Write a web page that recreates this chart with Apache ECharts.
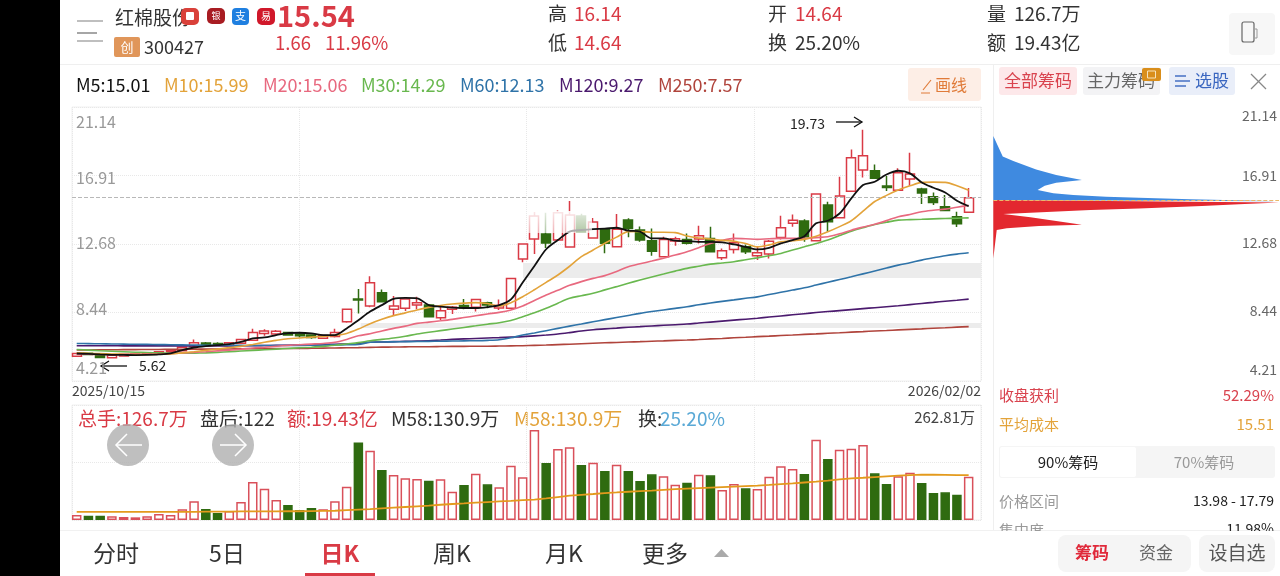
<!DOCTYPE html>
<html>
<head>
<meta charset="utf-8">
<style>
html,body{margin:0;padding:0;background:#fff}
#chart{width:1280px;height:576px}
</style>
<script src="https://cdn.jsdelivr.net/npm/echarts@6/dist/echarts.min.js"></script>
</head>
<body>
<div id="chart"></div>
<script>
// K 线数据，从截图上读出来的估计值
const opens = [5.74,5.92,5.80,5.64,5.76,5.83,5.86,5.92,6.00,6.08,6.36,6.56,6.52,6.40,6.55,6.73,7.15,7.12,7.20,7.12,7.05,6.85,6.96,7.87,9.27,8.84,9.67,8.64,8.70,8.90,8.90,8.12,8.64,8.87,8.76,9.05,8.72,8.70,11.75,12.98,13.29,12.92,12.49,14.40,13.04,13.58,12.51,14.16,13.54,12.88,11.89,12.86,12.95,12.98,13.02,11.82,12.34,12.50,11.95,12.05,13.08,13.95,14.09,12.87,15.08,14.30,15.94,17.24,17.20,16.26,16.00,16.69,16.07,15.59,14.98,14.36,14.64];
const closes = [5.91,5.84,5.66,5.80,5.87,5.88,5.93,6.02,6.10,6.30,6.57,6.44,6.42,6.58,6.78,7.21,7.30,7.28,7.05,7.00,6.90,7.02,7.20,8.65,9.21,10.28,9.11,8.84,9.28,9.05,8.18,8.55,8.76,8.74,9.25,8.90,8.88,10.55,12.67,14.40,12.73,14.60,14.46,13.41,14.03,12.72,13.58,13.64,12.92,12.22,12.96,13.00,12.72,13.18,12.20,12.26,12.75,12.20,12.13,12.85,13.68,14.15,13.12,15.76,14.05,15.64,18.00,18.13,16.73,16.17,17.08,17.00,15.82,15.24,14.75,13.93,15.54];
const lows = [5.72,5.80,5.62,5.62,5.74,5.80,5.84,5.90,5.98,6.05,6.33,6.40,6.38,6.38,6.52,6.68,7.00,7.02,7.00,6.90,6.82,6.80,6.90,7.81,8.38,8.76,9.11,8.22,8.53,8.64,8.18,7.98,8.35,8.64,8.50,8.70,8.60,8.68,11.54,12.06,12.43,12.90,12.49,13.40,13.00,12.10,12.50,13.09,12.82,11.95,11.85,12.57,12.65,12.70,12.15,11.68,12.09,12.05,11.68,11.78,12.96,13.74,12.81,12.85,13.43,14.30,15.90,16.79,16.69,15.95,15.95,16.27,15.14,15.08,14.75,13.72,14.64];
const highs = [5.93,5.94,5.82,5.82,5.90,5.90,5.95,6.04,6.12,6.33,6.78,6.62,6.60,6.60,6.82,7.44,7.40,7.36,7.25,7.18,7.10,7.06,7.44,8.68,9.89,10.69,9.87,9.46,9.30,9.42,8.95,8.90,8.84,9.28,9.27,9.11,9.25,10.55,12.70,14.65,14.60,14.75,15.33,14.55,14.28,13.62,14.53,14.26,13.75,13.64,13.13,13.13,13.33,13.80,13.74,12.40,13.33,12.65,12.50,12.92,14.42,14.50,14.21,15.76,15.28,16.83,18.52,19.73,17.59,16.87,17.35,18.31,16.15,15.86,15.70,14.67,16.14];

// 均线
const m5 = [5.91,5.88,5.85,5.83,5.82,5.81,5.82,5.85,5.92,6.12,6.28,6.37,6.43,6.49,6.63,6.84,6.90,7.05,7.17,7.19,7.15,7.05,7.05,7.46,7.97,8.50,8.90,9.28,9.34,9.32,8.90,8.80,8.74,8.72,8.72,8.78,8.90,9.25,10.30,11.32,12.35,12.92,13.44,13.54,13.60,13.62,13.68,13.50,13.44,13.02,13.02,12.88,12.85,12.81,12.81,12.77,12.65,12.50,12.34,12.44,12.71,12.92,13.16,13.95,14.11,14.56,15.49,16.32,16.52,16.97,17.20,17.04,16.48,16.15,15.86,15.35,15.01];
const m10 = [5.95,5.92,5.90,5.88,5.86,5.85,5.85,5.86,5.88,5.95,6.02,6.10,6.18,6.27,6.35,6.47,6.60,6.72,6.82,6.87,6.92,6.97,7.03,7.15,7.42,7.75,8.02,8.25,8.42,8.60,8.76,8.88,8.97,9.02,9.05,9.00,8.84,9.05,9.42,9.85,10.30,10.76,11.30,11.89,12.30,12.72,13.10,13.44,13.45,13.40,13.40,13.38,13.17,13.05,12.98,12.90,12.85,12.70,12.50,12.62,12.81,12.88,12.96,13.15,13.43,13.75,14.11,14.70,15.30,15.68,16.01,16.27,16.48,16.50,16.48,16.28,15.99];
const m20 = [5.87,5.86,5.85,5.85,5.85,5.86,5.87,5.88,5.90,5.94,5.98,6.02,6.07,6.12,6.18,6.25,6.30,6.36,6.41,6.45,6.49,6.53,6.60,6.78,7.00,7.13,7.30,7.46,7.60,7.77,7.85,7.93,8.02,8.13,8.24,8.35,8.45,8.60,8.84,9.18,9.52,9.82,10.12,10.35,10.55,10.72,10.98,11.27,11.45,11.62,11.80,11.99,12.20,12.45,12.70,12.90,13.02,13.00,12.96,13.00,13.02,13.02,13.02,13.07,13.12,13.30,13.53,13.72,13.90,14.12,14.36,14.50,14.67,14.76,14.83,14.95,15.06];
const m30 = [6.16,6.12,6.08,6.05,6.02,5.99,5.97,5.95,5.93,5.92,5.93,5.95,5.98,6.02,6.06,6.10,6.14,6.18,6.22,6.26,6.30,6.35,6.42,6.50,6.58,6.70,6.78,6.87,6.98,7.11,7.22,7.32,7.42,7.52,7.62,7.72,7.81,7.95,8.18,8.42,8.70,9.02,9.32,9.48,9.63,9.84,10.04,10.25,10.45,10.64,10.82,11.00,11.17,11.30,11.43,11.50,11.58,11.70,11.82,11.95,12.09,12.30,12.50,12.70,12.92,13.20,13.47,13.68,13.88,14.02,14.15,14.18,14.20,14.23,14.25,14.27,14.29];
const m60 = [6.53,6.52,6.51,6.50,6.49,6.48,6.47,6.46,6.45,6.44,6.43,6.42,6.42,6.41,6.41,6.40,6.40,6.40,6.41,6.41,6.42,6.43,6.44,6.45,6.47,6.60,6.62,6.63,6.64,6.65,6.66,6.67,6.68,6.69,6.70,6.72,6.76,6.88,7.05,7.18,7.32,7.46,7.60,7.73,7.87,8.00,8.13,8.26,8.39,8.50,8.60,8.70,8.80,8.92,9.03,9.13,9.22,9.32,9.41,9.55,9.69,9.83,9.97,10.14,10.31,10.48,10.65,10.83,11.01,11.19,11.37,11.52,11.68,11.82,11.95,12.05,12.13];
const m120 = [6.39,6.39,6.39,6.39,6.38,6.38,6.38,6.38,6.38,6.38,6.38,6.38,6.38,6.38,6.39,6.39,6.40,6.41,6.42,6.43,6.44,6.46,6.48,6.50,6.53,6.60,6.62,6.64,6.66,6.68,6.70,6.74,6.78,6.81,6.84,6.87,6.89,6.92,6.95,7.00,7.05,7.11,7.20,7.30,7.38,7.43,7.48,7.53,7.57,7.61,7.65,7.69,7.73,7.79,7.85,7.91,7.97,8.03,8.09,8.16,8.23,8.30,8.37,8.44,8.50,8.56,8.62,8.68,8.74,8.80,8.86,8.93,9.00,9.07,9.14,9.20,9.27];
const m250 = [6.13,6.13,6.14,6.14,6.15,6.15,6.16,6.16,6.17,6.17,6.18,6.18,6.19,6.19,6.20,6.20,6.21,6.21,6.22,6.22,6.23,6.24,6.25,6.26,6.27,6.29,6.30,6.31,6.32,6.33,6.33,6.34,6.35,6.35,6.36,6.36,6.37,6.38,6.39,6.41,6.43,6.46,6.48,6.51,6.54,6.57,6.59,6.62,6.64,6.67,6.69,6.72,6.74,6.77,6.81,6.84,6.88,6.91,6.95,6.98,7.02,7.05,7.09,7.12,7.16,7.19,7.23,7.26,7.30,7.33,7.37,7.40,7.43,7.47,7.50,7.54,7.57];

// 成交量（万手）
const volumes = [14.6,12.7,12.7,10.7,8.8,7.8,10.7,17.5,14.6,31.1,54.5,32.1,20.4,26.3,52.6,111,91.5,58.4,43.8,29.2,35,31.1,54.5,97.3,226.8,202.5,146,131.4,121.7,119.7,114.9,118.8,82.7,102.2,135.3,104.2,95.4,158.7,124.6,262.81,166.5,207.3,212.2,160.6,167.4,143.1,161.6,143.1,113.9,133.4,127.5,103.2,109,132.4,130.4,87.6,105.1,92.5,90.5,126.5,156.7,148.9,134.3,234.6,178.1,205.4,208.3,219,136.3,105.1,127.5,138.2,108,78.8,80.8,74,126.7];
const volumeMa = [24,24,24,24,24,24,24,24,24,24,24,24.5,24.5,24.5,25,25,25,25,25.5,25.5,26,26.5,27,29,30.5,32,34,36,38,40,42,44.5,46.7,48.5,50.5,52.5,54.5,56,58,59.4,63,67,71,73.5,76,78.8,80.5,82.5,84.5,86,88,90,91.5,93,94.5,96,97.5,99,100.2,102.5,105,107,109.5,112,115,118.5,121.7,123.5,125.5,127.5,129.5,131,132.4,132.2,131.9,131.4,130.9];

// 筹码分布 [密度, 价格]
const chipBlue = [[0,19.5],[3.3,18.23],[7,17.96],[15,17.44],[22,17.09],[31,16.78],[22,16.62],[18,16.43],[15.5,16.17],[21,15.96],[28,15.86],[39.5,15.75],[51,15.69],[69,15.59],[100,15.47],[0,15.55]];
const chipRed = [[0,15.55],[100,15.4],[86,15.28],[73,15.18],[51,15.03],[34,14.93],[13,14.76],[3.5,14.68],[13,14.48],[22,14.25],[31,14.02],[16,13.94],[4.7,13.8],[1.2,13.69],[0,11.94]];

// 刻度文字和它们摆放的价位
const priceTickLabels = ['21.14','16.91','12.68','8.44','4.21'];
const mainTickAt = [20.21,16.75,12.73,8.66,5.01];
const chipTickAt = [20.74,17.03,12.89,8.69,5.04];
const dateLabels = ['2025/10/15','2026/02/02'];
const lastClose = 15.54;
const gapBands = [[1.985,11.5,10.57],[1.27,7.79,7.48]];

const maLegend = [
    ['M5:15.01',76,'#111'],['M10:15.99',164,'#e3a33a'],['M20:15.06',263,'#e8697f'],
    ['M30:14.29',361,'#69b84f'],['M60:12.13',460,'#2f73a8'],['M120:9.27',559,'#4b1a6e'],['M250:7.57',658,'#b0443c']
];
const maColors = ['#111','#e3a33a','#e8697f','#69b84f','#2f73a8','#4b1a6e','#b0443c'];

const RED = '#d93a45', GREEN = '#2f6b10', FONT = '"Noto Sans CJK SC","Noto Sans",sans-serif';
const categories = opens.map((_, i) => i);

function T(x, y, text, fill, size, extra) {
    return Object.assign({
        type: 'text', x, y, silent: true,
        style: Object.assign({ text, fill, font: `${size}px ${FONT}`, textVerticalAlign: 'middle', textAlign: 'left' }, extra || {})
    });
}
function R(x, y, w, h, fill, r, extra) {
    return Object.assign({ type: 'rect', silent: true, shape: { x, y, width: w, height: h, r: r || 0 }, style: { fill } }, extra || {});
}
function L(pts, stroke, width) {
    return { type: 'polyline', silent: true, shape: { points: pts }, style: { stroke, lineWidth: width || 1.5, fill: 'none' } };
}

const chrome = [
    R(0, 0, 60, 576, '#000'),
    R(60, 64, 1220, 1, '#efefef'),
    R(993, 64, 1, 466, '#efefef'),
    R(60, 530, 1220, 1, '#f1f1f1'),

    // 顶部行情
    L([[77, 21], [103, 21]], '#aaa'), L([[77, 33], [97, 33]], '#888'), L([[77, 41], [103, 41]], '#aaa'),
    T(115, 18, '红棉股份', '#333', 19),
    R(114, 37, 26, 20, '#e0965a', 2), T(127, 47, '创', '#fff', 13, { textAlign: 'center' }),
    T(144, 47, '300427', '#333', 18),
    { type: 'text', x: 277, y: 16, silent: true, style: { text: '15.54', fill: RED, font: `bold 29px ${FONT}`, textVerticalAlign: 'middle' } },
    R(181, 8, 18, 17, '#d9413a', 5), R(186, 12, 8, 8, '#fff', 1),
    R(207, 8, 18, 16, '#a81c22', 5), T(216, 16, '银', '#fff', 9, { textAlign: 'center' }),
    R(232, 8, 17, 17, '#1f7fe0', 4), T(240.5, 16, '支', '#fff', 11, { textAlign: 'center' }),
    R(257, 8, 18, 17, '#d0182a', 5), T(266, 16, '易', '#fff', 10, { textAlign: 'center' }),
    T(275, 43, '1.66', RED, 18.5), T(325, 43, '11.96%', RED, 18.5),
    T(548, 14, '高', '#333', 19), T(574, 14, '16.14', RED, 19),
    T(548, 43, '低', '#333', 19), T(574, 43, '14.64', RED, 19),
    T(768, 14, '开', '#333', 19), T(795, 14, '14.64', RED, 19),
    T(768, 43, '换', '#333', 19), T(795, 43, '25.20%', '#333', 19),
    T(987, 14, '量', '#333', 19), T(1014, 14, '126.7万', '#333', 19),
    T(987, 43, '额', '#333', 19), T(1014, 43, '19.43亿', '#333', 19),
    R(1229, 13, 46, 42, '#f7f7f7', 4),
    { type: 'rect', silent: true, shape: { x: 1242, y: 22, width: 12, height: 20, r: 2 }, style: { fill: 'none', stroke: '#666', lineWidth: 1.2 } },
    L([[1255, 29], [1257, 29], [1257, 38], [1255, 38]], '#999', 1),

    // 均线图例
    ...maLegend.map(m => T(m[1], 85, m[0], m[2], 18)),
    R(908, 68, 73, 33, '#fdeee6', 3),
    L([[923, 90], [931, 80]], '#e07b39', 1.2), L([[921, 93], [930, 93]], '#e07b39', 1),
    T(935, 85, '画线', '#e07b39', 16),

    // 主图标注
    T(790, 124, '19.73', '#222', 14),
    L([[836, 122], [862, 122]], '#111', 1.3), L([[854, 117], [862, 122], [854, 127]], '#111', 1.3),
    L([[101, 366], [127, 366]], '#111', 1.3), L([[109, 361], [101, 366], [109, 371]], '#111', 1.3),
    T(139, 366, '5.62', '#222', 14),
    // 打码区域
    { type: 'rect', silent: true, z: 100, shape: { x: 527, y: 211, width: 65, height: 22 },
      style: { fill: new echarts.graphic.LinearGradient(0, 0, 0, 1, [{ offset: 0, color: 'rgba(255,255,255,.88)' }, { offset: 1, color: 'rgba(255,255,255,.62)' }]) } },

    // 副图图例
    T(78, 419, '总手:126.7万', RED, 19), T(200, 419, '盘后:122', '#333', 19), T(287, 419, '额:19.43亿', RED, 19),
    T(391, 419, 'M58:130.9万', '#333', 19), T(514, 419, 'M58:130.9万', '#e3a33a', 19),
    T(638, 419, '换:', '#333', 19), T(660, 419, '25.20%', '#5aa9d6', 19),
    T(975, 417, '262.81万', '#444', 15, { textAlign: 'right' }),
    { type: 'circle', silent: true, z: 100, shape: { cx: 128, cy: 445, r: 21 }, style: { fill: 'rgba(175,175,175,.8)' } },
    { type: 'circle', silent: true, z: 100, shape: { cx: 233, cy: 445, r: 21 }, style: { fill: 'rgba(175,175,175,.8)' } },
    Object.assign(L([[142, 445], [116, 445]], '#fff', 1.5), { z: 101 }),
    Object.assign(L([[127, 434], [116, 445], [127, 456]], '#fff', 1.5), { z: 101 }),
    Object.assign(L([[220, 445], [246, 445]], '#fff', 1.5), { z: 101 }),
    Object.assign(L([[235, 434], [246, 445], [235, 456]], '#fff', 1.5), { z: 101 }),

    // 筹码面板
    R(999, 67, 78, 28, '#fde8ea', 3), T(1038, 81, '全部筹码', '#d9434e', 17, { textAlign: 'center' }),
    R(1083, 67, 77, 28, '#f3f3f5', 3), T(1121, 81, '主力筹码', '#666', 17, { textAlign: 'center' }),
    R(1142, 68, 19, 13, '#d98e1b', 2), { type: 'rect', silent: true, shape: { x: 1147.5, y: 71, width: 8, height: 7 }, style: { fill: 'none', stroke: '#f6e3bd', lineWidth: 1 } },
    R(1169, 67, 66, 28, '#e9eef9', 3), T(1195, 81, '选股', '#3a66c0', 17),
    L([[1175, 76], [1186, 76]], '#3a66c0', 1.4), L([[1175, 81], [1190, 81]], '#3a66c0', 1.4), L([[1175, 86], [1186, 86]], '#3a66c0', 1.4),
    L([[1251, 74], [1266, 89]], '#888', 1.3), L([[1266, 74], [1251, 89]], '#888', 1.3),
    T(999, 395, '收盘获利', '#d9434e', 15), T(1274, 395, '52.29%', '#d9434e', 15, { textAlign: 'right' }),
    T(999, 424, '平均成本', '#e3a33a', 15), T(1274, 424, '15.51', '#e3a33a', 15, { textAlign: 'right' }),
    R(999, 446, 276, 32, '#f5f5f5', 3), R(1000, 447, 136, 30, '#fff', 2),
    T(1068, 462, '90%筹码', '#222', 15, { textAlign: 'center' }), T(1204, 462, '70%筹码', '#999', 15, { textAlign: 'center' }),
    T(999, 501, '价格区间', '#999', 15), T(1274, 501, '13.98 - 17.79', '#222', 14, { textAlign: 'right' }),
    T(999, 530, '集中度', '#999', 15), T(1274, 529, '11.98%', '#222', 14, { textAlign: 'right' }),
    R(993, 531, 287, 45, '#fff'),

    // 底部周期
    T(116, 553, '分时', '#333', 23, { textAlign: 'center' }), T(227, 553, '5日', '#333', 23, { textAlign: 'center' }),
    { type: 'text', x: 340, y: 553, silent: true, style: { text: '日K', fill: RED, font: `bold 23px ${FONT}`, textAlign: 'center', textVerticalAlign: 'middle' } },
    R(305, 573, 70, 3, RED),
    T(452, 553, '周K', '#333', 23, { textAlign: 'center' }), T(564, 553, '月K', '#333', 23, { textAlign: 'center' }),
    T(665, 553, '更多', '#333', 23, { textAlign: 'center' }),
    { type: 'polygon', silent: true, shape: { points: [[714, 557], [729, 557], [721.5, 549]] }, style: { fill: '#aaa' } },
    R(1058, 535, 133, 37, '#f5f5f5', 8), R(1199, 535, 76, 37, '#f5f5f5', 8),
    { type: 'text', x: 1092, y: 553, silent: true, style: { text: '筹码', fill: '#e0293a', font: `bold 17px ${FONT}`, textAlign: 'center', textVerticalAlign: 'middle' } },
    T(1156, 553, '资金', '#666', 17, { textAlign: 'center' }),
    T(1237, 553, '设自选', '#555', 19, { textAlign: 'center' })
];

const chart = echarts.init(document.getElementById('chart'));

const dotted = { show: true, lineStyle: { type: 'dotted', color: '#e8e8e8', width: 1 } };
const bare = { axisLine: { show: false }, axisTick: { show: false } };

function maSeries(name, data, color) {
    return {
        type: 'line', name, data, xAxisIndex: 1, yAxisIndex: 2, symbol: 'none', z: 5, silent: true,
        lineStyle: { color, width: name === 'M5' ? 1.8 : 1.6 }, smooth: 0.3
    };
}
function chipSeries(points, color) {
    return {
        type: 'custom', xAxisIndex: 4, yAxisIndex: 5, data: points, silent: true, z: 3,
        renderItem(params, api) {
            if (params.dataIndex !== 0) return null;
            return { type: 'polygon', shape: { points: points.map(p => api.coord(p)) }, style: { fill: color } };
        }
    };
}

const option = {
    animation: false,
    backgroundColor: '#fff',
    textStyle: { fontFamily: FONT },
    graphic: { elements: chrome },
    grid: [
        { left: 72, top: 107, width: 909, height: 274, show: true, borderColor: '#f0f0f0', borderWidth: 1 },
        { left: 70.83, top: 107, width: 903.7, height: 274 },
        { left: 72, top: 405, width: 909, height: 115, show: true, borderColor: '#f0f0f0', borderWidth: 1 },
        { left: 70.83, top: 405, width: 903.7, height: 115 },
        { left: 993.3, top: 109.5, width: 286.7, height: 274 }
    ],
    xAxis: [
        {
            type: 'value', gridIndex: 0, min: 0, max: 4, interval: 1, ...bare, splitLine: dotted,
            axisLabel: {
                show: true, color: '#444', fontSize: 14, margin: 3, customValues: [0, 4],
                alignMinLabel: 'left', alignMaxLabel: 'right',
                formatter: v => dateLabels[v === 0 ? 0 : 1]
            }
        },
        { type: 'category', gridIndex: 1, data: categories, show: false },
        { type: 'value', gridIndex: 2, min: 0, max: 4, interval: 1, ...bare, splitLine: dotted, axisLabel: { show: false } },
        { type: 'category', gridIndex: 3, data: categories, show: false },
        { type: 'value', gridIndex: 4, min: 0, max: 100, show: false }
    ],
    yAxis: [
        {
            type: 'value', gridIndex: 0, min: 4.21, max: 21.14, ...bare, splitLine: { show: false },
            axisLabel: {
                inside: true, margin: 4, color: '#999', fontSize: 16, customValues: mainTickAt,
                formatter: v => priceTickLabels[mainTickAt.indexOf(v)]
            }
        },
        { type: 'value', gridIndex: 0, min: 0, max: 4, interval: 1, ...bare, splitLine: dotted, axisLabel: { show: false } },
        { type: 'value', gridIndex: 1, min: 4.21, max: 21.14, show: false, scale: true },
        { type: 'value', gridIndex: 2, min: 0, max: 2, interval: 1, ...bare, splitLine: dotted, axisLabel: { show: false } },
        { type: 'value', gridIndex: 3, min: 0, max: 336, show: false },
        {
            type: 'value', gridIndex: 4, min: 4.21, max: 21.14, position: 'right', ...bare, splitLine: { show: false },
            axisLabel: {
                inside: true, margin: 2, color: '#666', fontSize: 14, customValues: chipTickAt,
                formatter: v => priceTickLabels[chipTickAt.indexOf(v)]
            }
        }
    ],
    series: [
        {
            type: 'line', xAxisIndex: 0, yAxisIndex: 0, data: [], z: 1, silent: true,
            markArea: {
                silent: true, itemStyle: { color: '#ececec' },
                data: gapBands.map(b => [{ coord: [b[0], b[1]] }, { coord: [4, b[2]] }])
            },
            markLine: {
                silent: true, symbol: 'none', label: { show: false },
                lineStyle: { type: 'dashed', color: '#b8b8b8', width: 1 },
                data: [{ yAxis: lastClose }]
            }
        },
        {
            type: 'candlestick', xAxisIndex: 1, yAxisIndex: 2, z: 2, silent: true, barWidth: 9.5,
            data: opens.map((o, i) => [o, closes[i], lows[i], highs[i]]),
            itemStyle: { color: '#fff', color0: GREEN, borderColor: RED, borderColor0: GREEN, borderWidth: 1.5 }
        },
        maSeries('M250', m250, maColors[6]),
        maSeries('M120', m120, maColors[5]),
        maSeries('M60', m60, maColors[4]),
        maSeries('M30', m30, maColors[3]),
        maSeries('M20', m20, maColors[2]),
        maSeries('M10', m10, maColors[1]),
        maSeries('M5', m5, maColors[0]),
        {
            type: 'bar', xAxisIndex: 3, yAxisIndex: 4, barWidth: 9.5, z: 2, silent: true,
            data: volumes.map((v, i) => ({
                value: v,
                itemStyle: closes[i] >= opens[i]
                    ? { color: '#fff', borderColor: '#d9505a', borderWidth: 1.5 }
                    : { color: GREEN, borderColor: GREEN, borderWidth: 1.5 }
            }))
        },
        {
            type: 'line', xAxisIndex: 3, yAxisIndex: 4, data: volumeMa, symbol: 'none', z: 4, silent: true,
            lineStyle: { color: '#e39a1d', width: 1.8 }
        },
        chipSeries(chipBlue, '#3f8ae0'),
        chipSeries(chipRed, '#e3282f'),
        {
            type: 'line', xAxisIndex: 4, yAxisIndex: 5, data: [], z: 4, silent: true,
            markLine: {
                silent: true, symbol: 'none', label: { show: false },
                lineStyle: { type: 'dashed', color: '#e9b96b', width: 1 },
                data: [{ yAxis: lastClose }]
            }
        }
    ]
};

chart.setOption(option);
</script>
</body>
</html>
